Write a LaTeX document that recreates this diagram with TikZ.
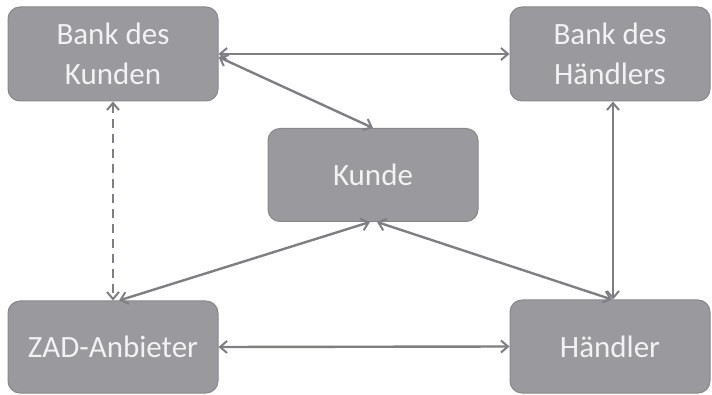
\documentclass[tikz,border=0pt]{standalone}
\usepackage{fontspec}
\setmainfont{Carlito}
\usetikzlibrary{arrows.meta}
\definecolor{boxfill}{HTML}{9A9A9E}
\definecolor{boxline}{HTML}{88888C}
\definecolor{boxtext}{HTML}{F2F2F2}
\definecolor{arrowcol}{HTML}{7E7E84}
\tikzset{
  box/.style={draw=boxline, line width=1pt, fill=boxfill, rounded corners=12pt,
    text=boxtext, align=center, inner sep=0pt,
    font=\fontsize{31}{40}\selectfont},
  link/.style={draw=arrowcol, line width=2.4pt,
    {Straight Barb[length=7pt,width=12pt,line width=2pt]}-{Straight Barb[length=7pt,width=12pt,line width=2pt]}},
  dlink/.style={link, dash pattern=on 9pt off 6pt}
}
\begin{document}
\begin{tikzpicture}[x=1pt,y=-1pt]
\useasboundingbox (0,0) rectangle (712,395);
\node[box, minimum width=210pt, minimum height=94pt] (BK) at (113,54) {Bank des\\Kunden};
\node[box, minimum width=200pt, minimum height=94pt] (BH) at (610,54) {Bank des\\Händlers};
\node[box, minimum width=210pt, minimum height=93pt] (K) at (373,175) {Kunde};
\node[box, minimum width=210pt, minimum height=92pt] (Z) at (113,347) {ZAD-Anbieter};
\node[box, minimum width=200pt, minimum height=93pt] (H) at (610,346.5) {Händler};
\draw[link] (BK.east) -- (BH.west);
\draw[link] ([yshift=-3pt]BK.east) -- (K.north);
\draw[dlink] (BK.south) -- (Z.north);
\draw[link] ([xshift=6pt]Z.north) -- ([xshift=-3pt]K.south);
\draw[link] ([xshift=4pt]K.south) -- ([xshift=2pt]H.north);
\draw[link] ([xshift=3pt]BH.south) -- ([xshift=3pt]H.north);
\draw[link] (Z.east) -- (H.west);
\end{tikzpicture}
\end{document}
